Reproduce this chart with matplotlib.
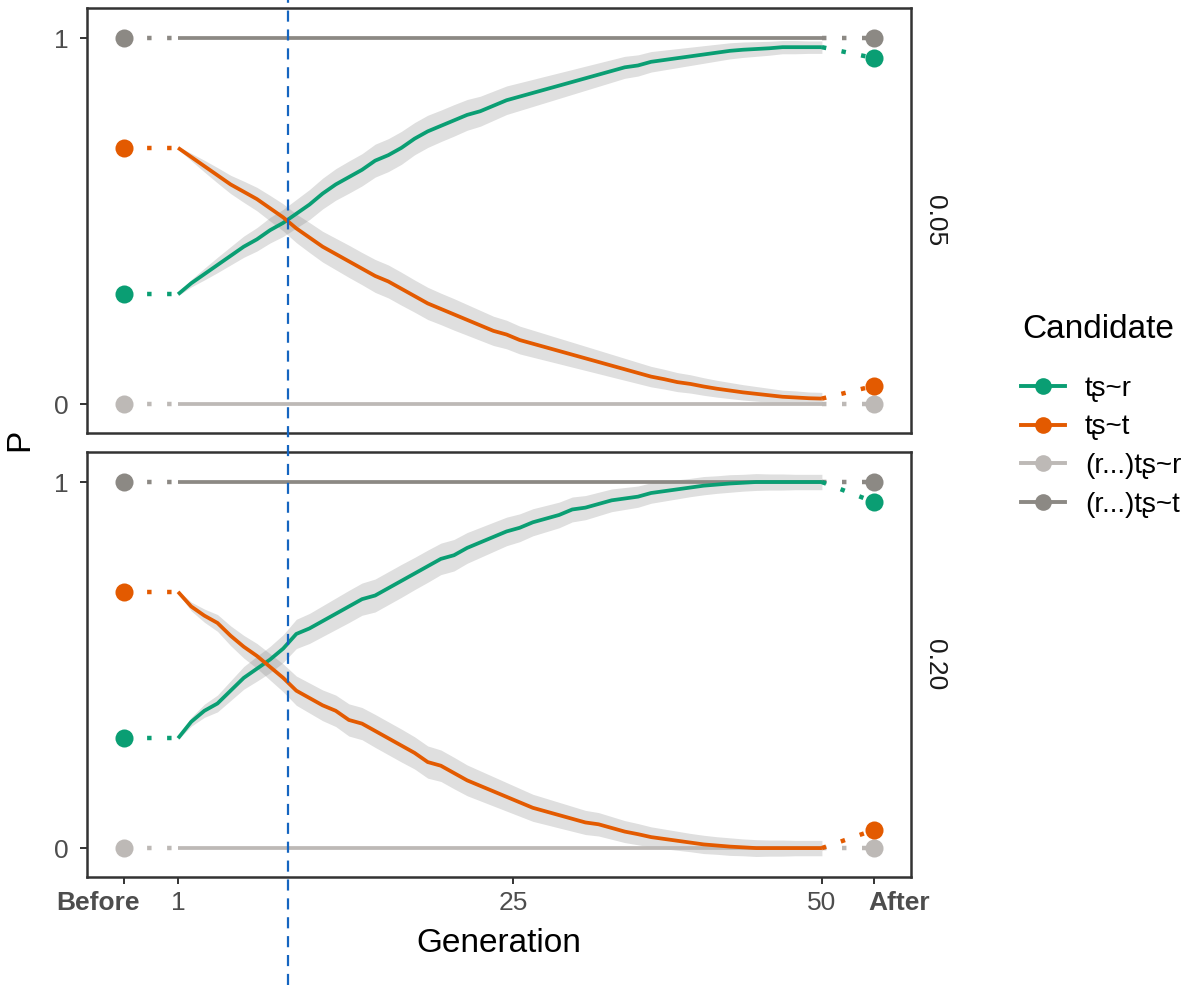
import numpy as np
import matplotlib.pyplot as plt
from matplotlib.lines import Line2D
from matplotlib.transforms import blended_transform_factory, ScaledTranslation

plt.rcParams['font.family'] = ['Liberation Sans', 'DejaVu Sans']

# ---- data ----
generations = np.arange(1, 51)
before_x = -3.1
after_x = 54.0
tick_pos = [-3.1, 1, 26.5, 50, 54.0]
tick_labels = ['Before', '1', '25', '50', 'After']
marker_gen = 9.4

panels = ['0.05', '0.20']
candidates = ['tʂ~r', 'tʂ~t', '(r...)tʂ~r', '(r...)tʂ~t']
colors = ['#0a9e73', '#e35a00', '#bdb9b6', '#8c8984']

before_vals = [0.30, 0.70, 0.0, 1.0]
after_vals = [0.945, 0.05, 0.0, 1.0]

# panel 0.05
r_05 = [0.30, 0.33, 0.355, 0.38, 0.405, 0.43, 0.45, 0.475, 0.495, 0.52,
        0.545, 0.575, 0.60, 0.62, 0.64, 0.665, 0.68, 0.70, 0.725, 0.745,
        0.76, 0.775, 0.79, 0.80, 0.815, 0.83, 0.84, 0.85, 0.86, 0.87,
        0.88, 0.89, 0.90, 0.91, 0.92, 0.925, 0.935, 0.94, 0.945, 0.95,
        0.955, 0.96, 0.965, 0.968, 0.97, 0.972, 0.975, 0.975, 0.975, 0.975]
t_05 = [0.70, 0.675, 0.65, 0.625, 0.60, 0.58, 0.56, 0.535, 0.51, 0.48,
        0.455, 0.43, 0.41, 0.39, 0.37, 0.35, 0.335, 0.315, 0.295, 0.275,
        0.26, 0.245, 0.23, 0.215, 0.20, 0.19, 0.175, 0.165, 0.155, 0.145,
        0.135, 0.125, 0.115, 0.105, 0.095, 0.085, 0.075, 0.068, 0.06, 0.055,
        0.048, 0.042, 0.037, 0.032, 0.028, 0.024, 0.02, 0.018, 0.016, 0.015]
band_05 = [0.004, 0.010, 0.016, 0.021, 0.025, 0.029, 0.032, 0.035, 0.037, 0.039,
           0.041, 0.042, 0.043, 0.044, 0.044, 0.045, 0.045, 0.045, 0.044, 0.044,
           0.043, 0.043, 0.042, 0.041, 0.040, 0.039, 0.038, 0.037, 0.036, 0.035,
           0.034, 0.033, 0.032, 0.031, 0.030, 0.029, 0.028, 0.027, 0.026, 0.025,
           0.024, 0.023, 0.022, 0.021, 0.020, 0.019, 0.018, 0.018, 0.017, 0.017]

# panel 0.20
r_20 = [0.30, 0.345, 0.375, 0.395, 0.43, 0.465, 0.49, 0.515, 0.545, 0.585,
        0.60, 0.62, 0.64, 0.66, 0.68, 0.69, 0.71, 0.73, 0.75, 0.77,
        0.79, 0.80, 0.82, 0.835, 0.85, 0.865, 0.875, 0.89, 0.90, 0.91,
        0.925, 0.93, 0.94, 0.95, 0.955, 0.96, 0.97, 0.975, 0.98, 0.985,
        0.99, 0.993, 0.996, 0.998, 1.0, 1.0, 1.0, 1.0, 1.0, 1.0]
t_20 = [0.70, 0.66, 0.635, 0.615, 0.58, 0.55, 0.525, 0.495, 0.465, 0.43,
        0.41, 0.39, 0.375, 0.35, 0.34, 0.32, 0.30, 0.28, 0.26, 0.235,
        0.225, 0.205, 0.185, 0.17, 0.155, 0.14, 0.125, 0.11, 0.10, 0.09,
        0.08, 0.07, 0.065, 0.055, 0.045, 0.038, 0.03, 0.025, 0.02, 0.015,
        0.01, 0.007, 0.004, 0.002, 0.0, 0.0, 0.0, 0.0, 0.0, 0.0]
band_20 = [0.004, 0.012, 0.018, 0.023, 0.027, 0.031, 0.034, 0.036, 0.038, 0.040,
           0.041, 0.042, 0.043, 0.044, 0.044, 0.045, 0.045, 0.045, 0.044, 0.044,
           0.043, 0.043, 0.042, 0.041, 0.040, 0.039, 0.038, 0.037, 0.036, 0.035,
           0.034, 0.033, 0.032, 0.031, 0.030, 0.029, 0.028, 0.027, 0.026, 0.025,
           0.025, 0.024, 0.024, 0.023, 0.023, 0.022, 0.022, 0.021, 0.021, 0.021]

lo_05 = np.full(50, 0.0)
hi_05 = np.full(50, 1.0)
lo_20 = np.full(50, 0.0)
hi_20 = np.full(50, 1.0)

series = {'0.05': [r_05, t_05, lo_05, hi_05],
          '0.20': [r_20, t_20, lo_20, hi_20]}
bands = {'0.05': band_05, '0.20': band_20}

# ---- figure ----
W, H = 1197, 985
fig = plt.figure(figsize=(W / 100, H / 100), dpi=100)
ax_top = fig.add_axes([87 / W, 1 - 433 / H, 824 / W, 425 / H])
ax_bot = fig.add_axes([87 / W, 1 - 877 / H, 824 / W, 425 / H])
axes = [ax_top, ax_bot]

# dotted joins: ~4.4 px dots every 20 px
dot_style = (3.8, (1, 3.5))
for ax, p in zip(axes, panels):
    vals_all = series[p]
    band = np.array(bands[p])
    # ribbons first
    for i in range(2):
        v = np.array(vals_all[i])
        ax.fill_between(generations, v - band, v + band, color='#808080',
                        alpha=0.25, lw=0, zorder=1)
    for i in [2, 3, 0, 1]:
        v = np.asarray(vals_all[i])
        c = colors[i]
        ax.plot(generations, v, color=c, lw=2.7, zorder=3,
                solid_capstyle='butt')
        ax.plot([before_x, 1], [before_vals[i], v[0]], color=c, lw=3.2,
                linestyle=dot_style, dash_capstyle='butt', zorder=3)
        ax.plot([50, after_x], [v[-1], after_vals[i]], color=c, lw=3.2,
                linestyle=(0, (1, 3.5)), dash_capstyle='butt', zorder=3)
        ax.plot([before_x, after_x], [before_vals[i], after_vals[i]], 'o',
                color=c, ms=13, mec='none', zorder=4)

    ax.set_xlim(-5.93, 56.78)
    ax.set_ylim(-0.079, 1.082)
    ax.set_yticks([0, 1])
    ax.set_yticklabels(['0', '1'])
    for s in ax.spines.values():
        s.set_color('#333333')
        s.set_linewidth(1.8)
    ax.tick_params(axis='both', length=5, width=1.4, color='#333333',
                   labelcolor='#4d4d4d', labelsize=19, pad=5)
    ax.tick_params(axis='y', pad=8)
    ax.text(1.029, 0.5, p, transform=ax.transAxes, rotation=-90,
            ha='center', va='center', fontsize=19, color='#1a1a1a')

ax_top.set_xticks([])
ax_bot.set_xticks(tick_pos)
ax_bot.set_xticklabels(tick_labels)
for lbl in ax_bot.get_xticklabels():
    txt = lbl.get_text()
    if txt == 'Before':
        lbl.set_fontweight('bold')
        lbl.set_transform(lbl.get_transform() +
                          ScaledTranslation(-0.26, 0, fig.dpi_scale_trans))
    elif txt == 'After':
        lbl.set_fontweight('bold')
        lbl.set_transform(lbl.get_transform() +
                          ScaledTranslation(0.25, 0, fig.dpi_scale_trans))

fig.text((87 + 911) / 2 / W, 1 - 943 / H, 'Generation', ha='center',
         va='center', fontsize=24)
fig.text(20 / W, 1 - 440 / H, 'P', ha='center', va='center', rotation=90,
         fontsize=24)

# vertical dashed marker over the whole figure height
trans = blended_transform_factory(ax_bot.transData, fig.transFigure)
fig.add_artist(Line2D([marker_gen, marker_gen], [0, 1], transform=trans,
                      color='#1565c0', lw=1.6, linestyle=(0, (5, 3.5)),
                      zorder=10))

# legend: title as its own text, then the keys
fig.text(1022 / W, 1 - 330 / H, 'Candidate', ha='left', va='center',
         fontsize=24)
handles = [Line2D([], [], color=c, lw=2.8, marker='o', ms=12, mec='none')
           for c in colors]
leg = fig.legend(handles, candidates, loc='upper left',
                 bbox_to_anchor=(1021 / W, 1 - 376 / H), frameon=False,
                 fontsize=20, handlelength=1.6, borderpad=0,
                 borderaxespad=0, labelspacing=0.45, handletextpad=0.7)

fig.savefig('out.png', dpi=100)
